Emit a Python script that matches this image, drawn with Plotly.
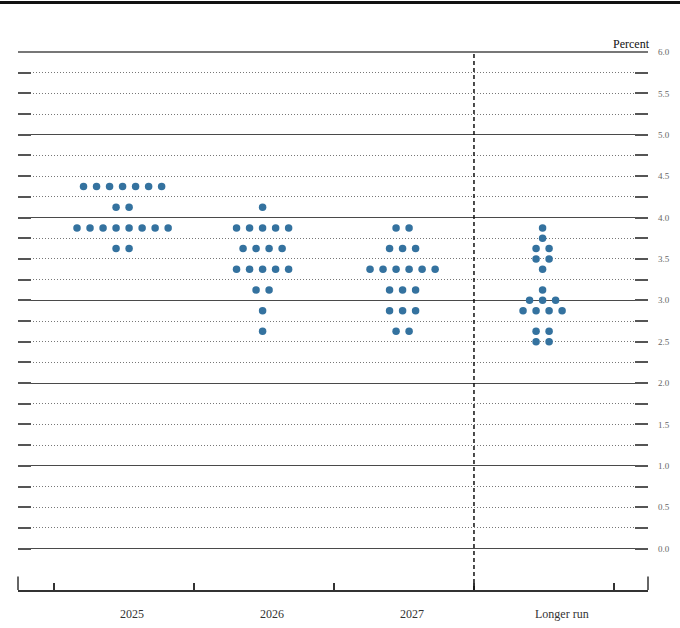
import plotly.graph_objects as go

# categories on the x axis
categories = ["2025", "2026", "2027", "Longer run"]

# midpoint of target range (percent) and number of participants at each level
levels_2025 = [4.375, 4.125, 3.875, 3.625]
counts_2025 = [7, 2, 8, 2]

levels_2026 = [4.125, 3.875, 3.625, 3.375, 3.125, 2.875, 2.625]
counts_2026 = [1, 5, 4, 5, 2, 1, 1]

levels_2027 = [3.875, 3.625, 3.375, 3.125, 2.875, 2.625]
counts_2027 = [2, 3, 6, 3, 3, 2]

levels_lr = [3.875, 3.75, 3.625, 3.5, 3.375, 3.125, 3.0, 2.875, 2.625, 2.5]
counts_lr = [1, 1, 2, 2, 1, 1, 3, 4, 2, 2]

y_tick_vals = [0.0, 0.5, 1.0, 1.5, 2.0, 2.5, 3.0, 3.5, 4.0, 4.5, 5.0, 5.5, 6.0]
y_tick_text = ["0.0", "0.5", "1.0", "1.5", "2.0", "2.5", "3.0", "3.5", "4.0", "4.5", "5.0", "5.5", "6.0"]

FONT = "Liberation Serif"
DOT = "#34729f"
SPACING = 0.093   # horizontal gap between dots, in category widths

columns = [
    (levels_2025, counts_2025),
    (levels_2026, counts_2026),
    (levels_2027, counts_2027),
    (levels_lr, counts_lr),
]

xs, ys = [], []
for i, (levels, counts) in enumerate(columns):
    center = i + 0.49
    for lev, n in zip(levels, counts):
        for k in range(n):
            xs.append(center + (k - (n - 1) / 2.0) * SPACING)
            ys.append(lev)

fig = go.Figure()
fig.add_trace(go.Scatter(x=xs, y=ys, mode="markers",
                         marker=dict(color=DOT, size=7.5, line=dict(width=0)),
                         hoverinfo="y", showlegend=False))
# dummy trace so the right-hand axis gets drawn
fig.add_trace(go.Scatter(x=[None], y=[None], yaxis="y2", showlegend=False, hoverinfo="skip"))

quarter_vals = [v * 0.25 for v in range(25)]

fig.update_layout(
    width=680, height=628,
    margin=dict(l=18, r=32, t=52, b=38, autoexpand=False),
    paper_bgcolor="white", plot_bgcolor="white",
    font=dict(family=FONT, color="#222"),
    xaxis=dict(range=[-0.257, 4.243], showgrid=False, zeroline=False,
               tickmode="array", tickvals=[0, 1, 2, 3, 4], showticklabels=False,
               ticks="inside", ticklen=7, tickwidth=1.5, tickcolor="#333",
               showline=True, linecolor="#333", linewidth=1.5, fixedrange=True),
    yaxis=dict(range=[-0.5, 6.0], zeroline=False, showticklabels=False,
               tickmode="array", tickvals=[0, 1, 2, 3, 4, 5, 6],
               showgrid=True, gridcolor="#4a4a4a", gridwidth=1.3,
               ticks="inside", ticklen=13, tickwidth=1.5, tickcolor="#555",
               minor=dict(tickmode="array", tickvals=quarter_vals,
                          showgrid=True, griddash="1px,2px", gridcolor="#777", gridwidth=1,
                          ticks="inside", ticklen=13, tickwidth=1.5, tickcolor="#555"),
               fixedrange=True),
    yaxis2=dict(range=[-0.5, 6.0], overlaying="y", side="right", anchor="x",
                zeroline=False, showgrid=False,
                tickmode="array", tickvals=y_tick_vals, ticktext=y_tick_text,
                tickfont=dict(family=FONT, size=9, color="#666"),
                ticks="inside", ticklen=13, tickwidth=1.5, tickcolor="#555",
                ticklabelstandoff=9,
                minor=dict(tickmode="array", tickvals=quarter_vals,
                           ticks="inside", ticklen=13, tickwidth=1.5, tickcolor="#555"),
                fixedrange=True),
)

# top solid rule at 6.0 (grid line at the range edge is not drawn)
fig.add_shape(type="line", xref="paper", yref="paper", x0=0, x1=1, y0=1, y1=1,
              line=dict(color="#4a4a4a", width=1.3))

# dashed divider before the longer run
fig.add_shape(type="line", xref="x", yref="y", x0=3, x1=3, y0=-0.5, y1=6.0,
              line=dict(color="#111", width=1.5, dash="4px,3px"))

# taller end ticks on the bottom axis
for px in (0, 1):
    fig.add_shape(type="line", xref="paper", yref="paper", x0=px, x1=px, y0=0, y1=0.025,
                  line=dict(color="#333", width=1.5))

# heavy rule at the very top
fig.add_shape(type="line", xref="paper", yref="paper", x0=-0.03, x1=1.06,
              y0=1.092, y1=1.092, line=dict(color="#111", width=3))

fig.add_annotation(text="Percent", xref="paper", yref="paper", x=1.006, y=0.999,
                   xanchor="right", yanchor="bottom", showarrow=False,
                   font=dict(family=FONT, size=12, color="#111"))

label_pos = [0.56, 1.56, 2.56, 3.63]
for name, xp in zip(categories, label_pos):
    fig.add_annotation(text=name, x=xp, xref="x", y=-0.045, yref="paper",
                       xanchor="center", yanchor="middle", showarrow=False,
                       font=dict(family=FONT, size=12, color="#333"))

fig.write_html("out.html", config={"displayModeBar": False},
               post_script="document.body.style.margin='0';")
